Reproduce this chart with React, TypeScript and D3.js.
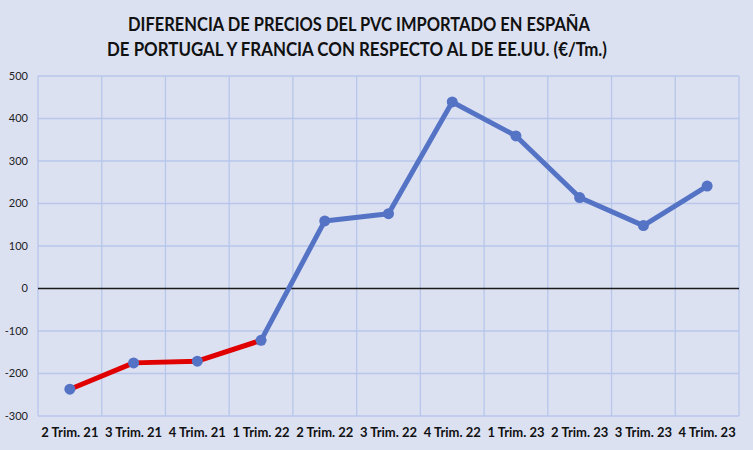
import React, { useEffect } from "react";
import * as d3 from "d3";

const categories = [
  "2 Trim. 21", "3 Trim. 21", "4 Trim. 21", "1 Trim. 22", "2 Trim. 22", "3 Trim. 22",
  "4 Trim. 22", "1 Trim. 23", "2 Trim. 23", "3 Trim. 23", "4 Trim. 23",
];
const values = [-237, -175, -171, -122, 159, 176, 439, 359, 214, 148, 241];
const redCount = 4;
const yTicks = [-300, -200, -100, 0, 100, 200, 300, 400, 500];
const titleLines = [
  "DIFERENCIA DE PRECIOS DEL PVC IMPORTADO EN ESPAÑA",
  "DE PORTUGAL Y FRANCIA CON RESPECTO AL DE EE.UU. (€/Tm.)",
];

const W = 753, H = 450;
const M = { left: 38, right: 739, top: 76, bottom: 416 };
const titleLayout = [
  { cx: 359, y: 31, len: 462 },
  { cx: 357, y: 56, len: 500 },
];

export default function App() {
  useEffect(() => {
    document.body.style.margin = "0";
  }, []);

  const x = d3.scaleBand<string>().domain(categories).range([M.left, M.right]).padding(0);
  const y = d3.scaleLinear().domain([-300, 500]).range([M.bottom, M.top]);
  const cx = (c: string) => (x(c) ?? 0) + x.bandwidth() / 2;

  const blueLine = d3
    .line<number>()
    .x((_, i) => cx(categories[i + redCount - 1]))
    .y((v) => y(v))(values.slice(redCount - 1));
  const redLine = d3
    .line<number>()
    .x((_, i) => cx(categories[i]))
    .y((v) => y(v))(values.slice(0, redCount));

  const gridX = categories.map((c) => x(c) ?? 0).concat([M.right]);

  return (
    <svg width={W} height={H} style={{ display: "block" }} fontFamily="Lato, 'Open Sans', sans-serif">
      <rect x={0} y={0} width={W} height={H} fill="#dce1f2" />
      {yTicks.map((t) =>
        t === 0 ? null : (
          <line key={"gy" + t} x1={M.left} x2={M.right} y1={y(t)} y2={y(t)} stroke="#b7c6ea" strokeWidth={1.3} />
        )
      )}
      {gridX.map((gx, i) => (
        <line key={"gx" + i} x1={gx} x2={gx} y1={M.top} y2={M.bottom} stroke="#b7c6ea" strokeWidth={1.3} />
      ))}
      <line x1={M.left} x2={M.right} y1={y(0)} y2={y(0)} stroke="#1a1a1a" strokeWidth={1.5} />
      {yTicks.map((t) => (
        <text key={"ty" + t} x={28} y={y(t)} dy="0.35em" textAnchor="end" fontSize={11} fill="#222">
          {t}
        </text>
      ))}
      {categories.map((c) => (
        <text key={"tx" + c} x={cx(c)} y={437} textAnchor="middle" fontSize={13} fontWeight="bold" fill="#111">
          {c}
        </text>
      ))}
      <path d={blueLine ?? ""} fill="none" stroke="#5573c5" strokeWidth={5} strokeLinejoin="round" />
      <path d={redLine ?? ""} fill="none" stroke="#e00000" strokeWidth={5} strokeLinejoin="round" />
      {values.map((v, i) => (
        <circle key={"p" + i} cx={cx(categories[i])} cy={y(v)} r={5.5} fill="#5573c5" />
      ))}
      {titleLines.map((t, i) => (
        <text
          key={"tt" + i}
          x={titleLayout[i].cx}
          y={titleLayout[i].y}
          textAnchor="middle"
          fontSize={18.5}
          fontWeight="bold"
          fill="#111"
          textLength={titleLayout[i].len}
          lengthAdjust="spacingAndGlyphs"
        >
          {t}
        </text>
      ))}
    </svg>
  );
}
